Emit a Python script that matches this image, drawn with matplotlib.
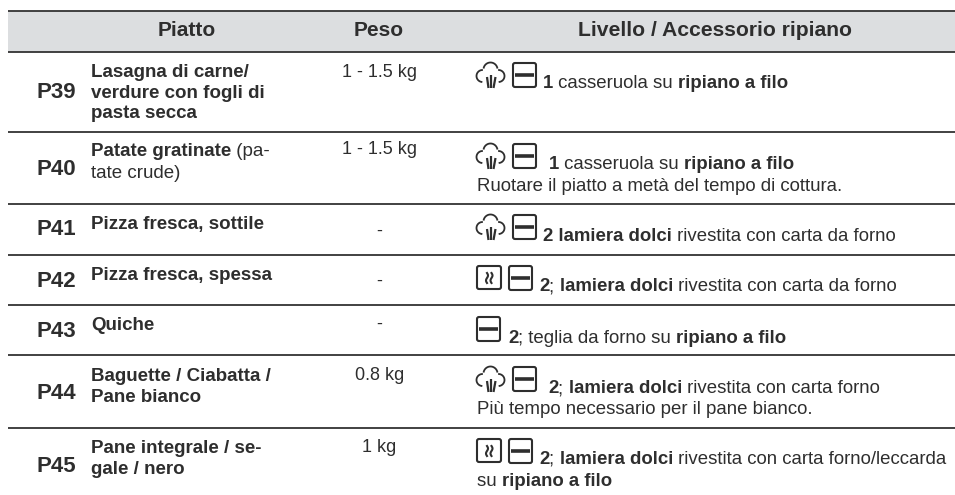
import numpy as np
from matplotlib import pyplot as plt
from matplotlib.patches import FancyBboxPatch, Rectangle

plt.rcParams["font.family"] = ["Liberation Sans", "DejaVu Sans"]

headers = ["Piatto", "Peso", "Livello / Accessorio ripiano"]
codes = ["P39", "P40", "P41", "P42", "P43", "P44", "P45"]
names = [
    ["*Lasagna di carne/*", "*verdure con fogli di*", "*pasta secca*"],
    ["*Patate gratinate* (pa-", "tate crude)"],
    ["*Pizza fresca, sottile*"],
    ["*Pizza fresca, spessa*"],
    ["*Quiche*"],
    ["*Baguette / Ciabatta /*", "*Pane bianco*"],
    ["*Pane integrale / se-*", "*gale / nero*"],
]
weights = ["1 - 1.5 kg", "1 - 1.5 kg", "-", "-", "-", "0.8 kg", "1 kg"]
notes = [
    ["*1* casseruola su *ripiano a filo*"],
    ["*1* casseruola su *ripiano a filo*", "Ruotare il piatto a metà del tempo di cottura."],
    ["*2 lamiera dolci* rivestita con carta da forno"],
    ["*2*; *lamiera dolci* rivestita con carta da forno"],
    ["*2*; teglia da forno su *ripiano a filo*"],
    ["*2*; *lamiera dolci* rivestita con carta forno", "Più tempo necessario per il pane bianco."],
    ["*2*; *lamiera dolci* rivestita con carta forno/leccarda", "su *ripiano a filo*"],
]
icons = [
    ["cloud", "shelf"],
    ["cloud", "shelf"],
    ["cloud", "shelf"],
    ["steam", "shelf"],
    ["shelf"],
    ["cloud", "shelf"],
    ["steam", "shelf"],
]

# layout, in pixels of the 955x495 picture
rule_y = [11, 52, 132, 203.5, 255, 305, 355, 427.5]
code_y = [98, 175, 235, 287, 337, 399, 472]
name_y = [[77, 97.5, 118], [156, 177.5], [229], [280], [330], [381, 402], [453, 474]]
weight_y = [77, 154.5, 236, 286, 329, 380, 452]
note_x = [543, 549, 543, 539, 508, 548, 539]
note_y = [[88], [169, 191], [241], [291], [343], [393, 414], [464, 486]]
icon_top = [62, 143, 214, 265, 316, 366, 438]
INK = "#2e2e2e"
NAME_SIZE = 13.5
NOTE_SIZE = 13.4

fig = plt.figure(figsize=(9.55, 4.95), dpi=100)
ax = fig.add_axes([0, 0, 1, 1])
ax.set_xlim(0, 955)
ax.set_ylim(495, 0)
ax.axis("off")
renderer = fig.canvas.get_renderer()


def run_width(text, size, weight):
    """Width of a run in pixels, keeping its leading and trailing spaces."""
    def measure(s):
        t = ax.text(0, 0, s, fontsize=size, fontweight=weight)
        w = t.get_window_extent(renderer).width
        t.remove()
        return w
    return measure("x" + text + "x") - measure("xx")


def rich_text(x, y, line, size):
    # *...* marks the bold parts of a line
    for i, part in enumerate(line.split("*")):
        if not part:
            continue
        weight = "bold" if i % 2 else "normal"
        ax.text(x, y, part, fontsize=size, fontweight=weight, color=INK, va="baseline")
        x += run_width(part, size, weight)


def arc(cx, cy, r, a0, a1):
    a = np.radians(np.linspace(a0, a1, 30))
    return cx + r * np.cos(a), cy - r * np.sin(a)


def box(x, y, w, h):
    ax.add_patch(FancyBboxPatch((x + 1, y + 1), w - 2, h - 2, boxstyle="round,pad=0,rounding_size=2",
                                fc="white", ec=INK, lw=1.5))


def draw_icon(kind, x, y):
    if kind == "shelf":
        box(x, y, 25, 26)
        ax.plot([x + 3, x + 22], [y + 13, y + 13], color=INK, lw=2.6, solid_capstyle="butt")
    elif kind == "steam":
        box(x, y, 26, 25)
        for dx in (11, 15.5):
            yy = np.linspace(y + 8, y + 18, 20)
            ax.plot(x + dx + 1.0 * np.sin((yy - y - 8) / 10 * 2 * np.pi), yy, color=INK, lw=1.5)
    else:
        for cx, cy, r, a0, a1 in [(x + 6.5, y + 14, 6, 260, 95),
                                  (x + 14.5, y + 7.5, 7, 165, 15),
                                  (x + 22.5, y + 14, 6, 85, -80)]:
            px, py = arc(cx, cy, r, a0, a1)
            ax.plot(px, py, color=INK, lw=1.3)
        for x0, x1, y0 in [(11, 12.5, 15), (15, 15, 13), (19.5, 17.5, 15)]:
            ax.plot([x + x0, x + x1], [y + y0, y + 26], color=INK, lw=1.6, solid_capstyle="butt")


ax.add_patch(Rectangle((8, rule_y[0]), 947, rule_y[1] - rule_y[0], fc="#dcdee0", ec="none"))
for i, y in enumerate(rule_y):
    ax.plot([8, 955], [y, y], color="#333333", lw=1.3, solid_capstyle="butt")

ax.text(187, 36, headers[0], fontsize=15, fontweight="bold", color=INK, ha="center", va="baseline")
ax.text(379, 36, headers[1], fontsize=15, fontweight="bold", color=INK, ha="center", va="baseline")
ax.text(714.5, 36, headers[2], fontsize=15.2, fontweight="bold", color=INK, ha="center", va="baseline")

for i, code in enumerate(codes):
    ax.text(36.5, code_y[i], code, fontsize=16, fontweight="bold", color=INK, va="baseline")
    for line, y in zip(names[i], name_y[i]):
        rich_text(91, y, line, NAME_SIZE)
    ax.text(379.5, weight_y[i], weights[i], fontsize=13, color=INK, ha="center", va="baseline")
    x = 476
    for kind in icons[i]:
        draw_icon(kind, x, icon_top[i])
        x += 36 if kind == "cloud" else 32
    rich_text(note_x[i], note_y[i][0], notes[i][0], NOTE_SIZE)
    for line, y in zip(notes[i][1:], note_y[i][1:]):
        rich_text(477, y, line, NOTE_SIZE)

fig.savefig("out.png", dpi=100)
